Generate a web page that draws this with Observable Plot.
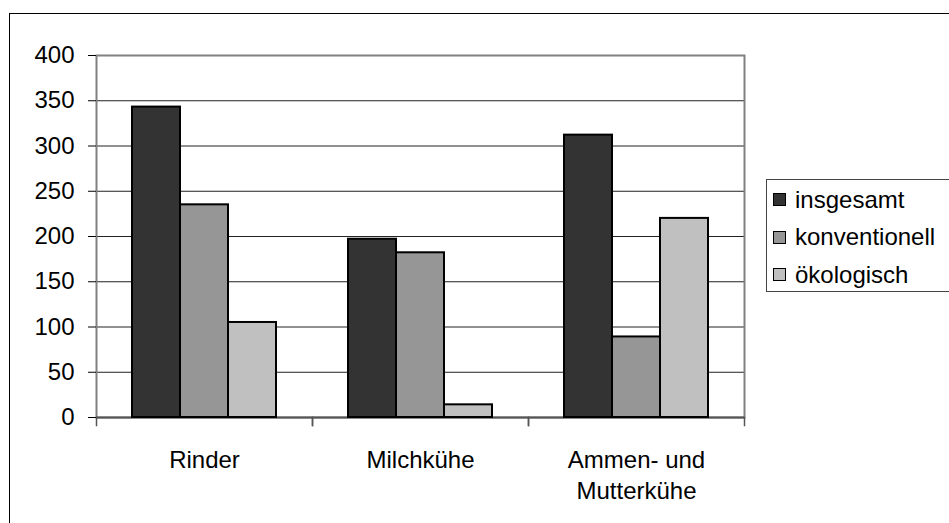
<!DOCTYPE html>
<html>
<head>
<meta charset="utf-8">
<script src="https://cdn.jsdelivr.net/npm/d3@7"></script>
<script src="https://cdn.jsdelivr.net/npm/@observablehq/plot@0.6"></script>
<style>
  html, body { margin: 0; padding: 0; background: #fff; overflow: hidden; }
  #wrap { position: relative; width: 949px; height: 523px; overflow: hidden; font-family: Arial, "Liberation Sans", sans-serif; }
  #outer { position: absolute; left: 9px; top: 13px; width: 1000px; height: 600px; border-left: 1.5px solid #000; border-top: 1.5px solid #000; box-sizing: border-box; }
  #chart { position: absolute; left: 0; top: 0; }
  #legend { position: absolute; left: 766px; top: 179px; width: 183px; height: 113px; border: 1.5px solid #444; border-right: none; box-sizing: border-box; background: #fff; padding-top: 1px; overflow: hidden; white-space: nowrap; }
  .item { display: flex; align-items: center; height: 37.5px; font-size: 24px; color: #000; padding-left: 6px; }
  .sw { width: 11px; height: 11px; border: 1.5px solid #000; margin-right: 9px; flex: none; }
</style>
</head>
<body>
<div id="wrap">
  <div id="outer"></div>
  <div id="chart"></div>
  <div id="legend"></div>
</div>
<script>
const categories = ["Rinder", "Milchkühe", "Ammen- und Mutterkühe"];
const categoryLabels = ["Rinder", "Milchkühe", "Ammen- und\nMutterkühe"];
const series = ["insgesamt", "konventionell", "ökologisch"];
const seriesColors = ["#333333", "#969696", "#c0c0c0"];
const insgesamt = [343, 197, 312];
const konventionell = [235, 182, 89];
const oekologisch = [105, 14, 220];
const yTicks = [0, 50, 100, 150, 200, 250, 300, 350, 400];

const valuesBySeries = [insgesamt, konventionell, oekologisch];
const data = [];
categories.forEach((c, i) => {
  series.forEach((s, j) => data.push({category: c, series: s, value: valuesBySeries[j][i]}));
});
const labelOf = new Map(categories.map((c, i) => [c, categoryLabels[i]]));

const chart = Plot.plot({
  width: 949,
  height: 523,
  marginLeft: 95,
  marginRight: 205,
  marginTop: 55,
  marginBottom: 106,
  style: {fontFamily: "Arial, 'Liberation Sans', sans-serif", fontSize: "24px", background: "transparent", color: "#000"},
  fx: {domain: categories, padding: 0, axis: null, label: null},
  x: {domain: series, paddingInner: 0, paddingOuter: 0.74, axis: null},
  y: {domain: [0, 400], axis: null, label: null},
  color: {domain: series, range: seriesColors},
  marks: [
    Plot.ruleY(yTicks, {stroke: "#222", strokeWidth: 1}),
    Plot.frame({facet: "super", stroke: "#808080", strokeWidth: 2}),
    Plot.frame({anchor: "left", insetTop: 362, insetBottom: -8, stroke: "#555", strokeWidth: 1.5}),
    Plot.frame({anchor: "right", insetTop: 362, insetBottom: -8, stroke: "#555", strokeWidth: 1.5}),
    Plot.ruleY([0], {stroke: "#555", strokeWidth: 2}),
    Plot.barY(data, {fx: "category", x: "series", y: "value", fill: "series", stroke: "#000", strokeWidth: 2}),
    Plot.axisY({ticks: yTicks, tickSize: 8, tickPadding: 14, fontSize: 24, label: null, stroke: "#000", tickFormat: d => String(d)}),
    Plot.axisFx({anchor: "bottom", tickSize: 0, tickPadding: 29, fontSize: 24, lineHeight: 1.27, label: null, tickFormat: d => labelOf.get(d)})
  ]
});
document.getElementById("chart").appendChild(chart);

const legend = document.getElementById("legend");
series.forEach((s, i) => {
  const row = document.createElement("div");
  row.className = "item";
  const sw = document.createElement("span");
  sw.className = "sw";
  sw.style.background = seriesColors[i];
  row.appendChild(sw);
  row.appendChild(document.createTextNode(s));
  legend.appendChild(row);
});
</script>
</body>
</html>
